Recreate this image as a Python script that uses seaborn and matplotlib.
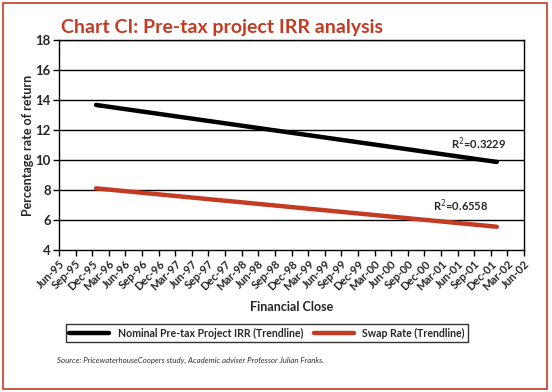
import matplotlib
matplotlib.use("Agg")
import matplotlib.pyplot as plt
import seaborn as sns
import pandas as pd
from matplotlib.patches import Rectangle
from matplotlib.lines import Line2D

# ---- data ----
tick_labels = ["Jun-95", "Sep-95", "Dec-95", "Mar-96", "Jun-96", "Sep-96", "Dec-96",
               "Mar-97", "Jun-97", "Sep-97", "Dec-97", "Mar-98", "Jun-98", "Sep-98",
               "Dec-98", "Mar-99", "Jun-99", "Sep-99", "Dec-99", "Mar-00", "Jun-00",
               "Sep-00", "Dec-00", "Mar-01", "Jun-01", "Sep-01", "Dec-01", "Mar-02", "Jun-02"]
# trendline endpoints, x in quarters since Jun-95
trend_x = [2.23, 26.36]
irr_values = [13.67, 9.87]
swap_values = [8.11, 5.55]
series_names = ["Nominal Pre-tax Project IRR (Trendline)", "Swap Rate (Trendline)"]
r2_labels = ["R$^2$=0.3229", "R$^2$=0.6558"]
y_ticks = [4, 6, 8, 10, 12, 14, 16, 18]

RED = "#c23b22"
df = pd.DataFrame({
    "x": trend_x + trend_x,
    "y": irr_values + swap_values,
    "series": [series_names[0]] * 2 + [series_names[1]] * 2,
})

sns.set_style("white")
plt.rcParams["font.family"] = ["Lato", "DejaVu Sans"]

fig = plt.figure(figsize=(5.52, 3.92), dpi=100)
ax = fig.add_axes([59 / 552, 1 - 250 / 392, (524 - 59) / 552, 210 / 392])

sns.lineplot(data=df, x="x", y="y", hue="series", palette=["black", RED],
             linewidth=3.2, ax=ax, legend=False)

ax.set_xlim(0, len(tick_labels) - 1)
ax.set_ylim(4, 18)
ax.set_yticks(y_ticks)
ax.set_yticklabels([str(v) for v in y_ticks], fontsize=9.5, fontweight="bold")
ax.set_xticks(range(len(tick_labels)))
ax.set_xticklabels(tick_labels, rotation=45, ha="right", rotation_mode="anchor",
                   fontsize=8, fontweight="bold")
ax.tick_params(axis="both", direction="out", length=4, width=1, color="black",
               bottom=True, left=True, pad=2)
for v in y_ticks[1:]:
    ax.axhline(v, color="black", linewidth=1, zorder=0)
for s in ["left", "bottom", "right", "top"]:
    ax.spines[s].set_color("black")
    ax.spines[s].set_linewidth(1)

ax.set_xlabel("Financial Close", fontsize=9, fontweight="bold", labelpad=6)
ax.set_ylabel("Percentage rate of return", fontsize=9, fontweight="bold", labelpad=1)

ax.text(25.3, 11.1, r2_labels[0], fontsize=8, fontweight="bold", ha="center", va="center")
ax.text(24.2, 6.95, r2_labels[1], fontsize=8, fontweight="bold", ha="center", va="center")

fig.text(61 / 552, 1 - 27 / 392, "Chart CI: Pre-tax project IRR analysis",
         color=RED, fontsize=14, fontweight="bold", va="center", ha="left")

handles = [Line2D([0], [0], color="black", lw=3.2), Line2D([0], [0], color=RED, lw=3.2)]
leg = fig.legend(handles, series_names, loc="center", bbox_to_anchor=(267 / 552, 1 - 333 / 392),
                 ncol=2, frameon=True, fancybox=False, edgecolor="black",
                 prop={"weight": "bold", "size": 7.6}, handlelength=3.8, columnspacing=1.0,
                 borderpad=0.35, handletextpad=0.8)
leg.get_frame().set_linewidth(1)

fig.text(57 / 552, 1 - 360 / 392,
         "Source: PricewaterhouseCoopers study, Academic adviser Professor Julian Franks.",
         fontsize=5.7, style="italic", color="#333333", va="center", ha="left")

fig.patches.append(Rectangle((3 / 552, 3 / 392), 544 / 552, 386 / 392,
                             transform=fig.transFigure, fill=False, edgecolor=RED,
                             linewidth=1.2))

fig.savefig("out.png", dpi=100)
